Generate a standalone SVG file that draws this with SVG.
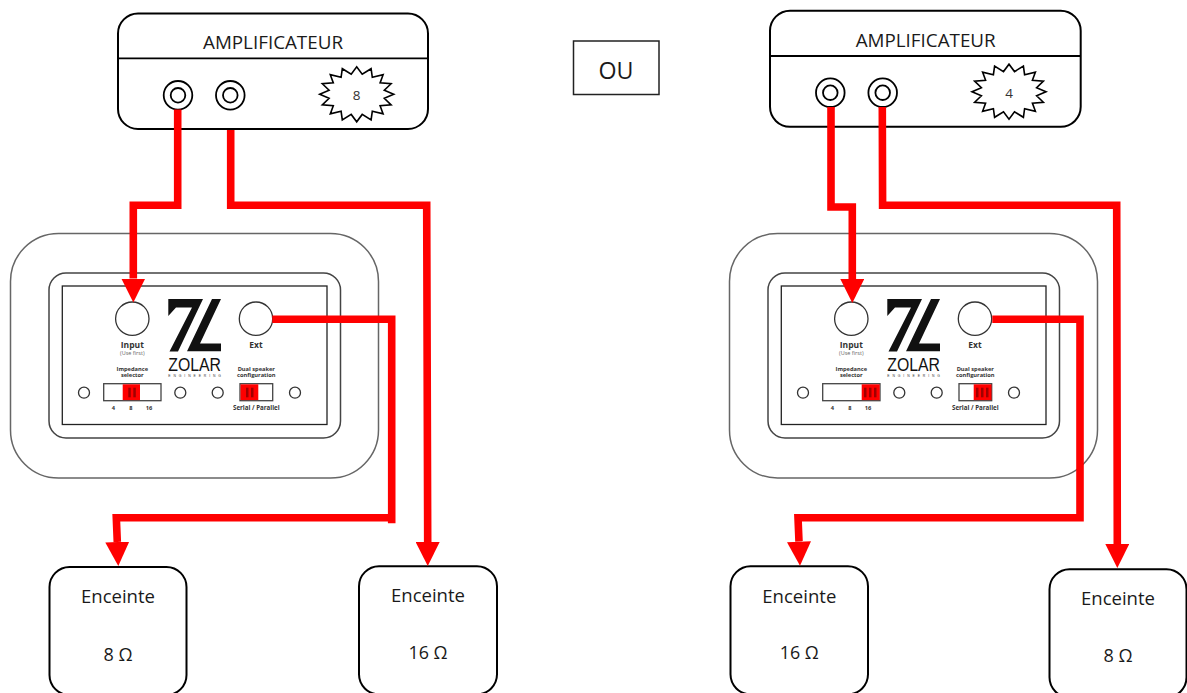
<svg xmlns="http://www.w3.org/2000/svg" width="1187" height="693" viewBox="0 0 1187 693">
<style>
.box{fill:#fff;stroke:#000;stroke-width:2}
.thin{fill:none;stroke:#000;stroke-width:1.8}
.lbl{font-family:"Open Sans","Liberation Sans",sans-serif;fill:#1a1a1a;text-anchor:middle}
.amp{font-size:18px}
.spk{font-size:18.5px}
.num{font-size:13.5px;fill:#333}
.ou{font-size:24px}
.outer{fill:#fff;stroke:#666;stroke-width:1.5}
.inner{fill:#fff;stroke:#444;stroke-width:1.5}
.plate{fill:#fff;stroke:#222;stroke-width:1.3}
.hole{fill:#fff;stroke:#333;stroke-width:1.3}
.sw{fill:#fff;stroke:#444;stroke-width:1.3}
.on{fill:#f00}
.bar{fill:#a00000}
.p{font-family:"Open Sans","Liberation Sans",sans-serif;fill:#333;text-anchor:middle;font-weight:700}
.p1{font-size:8.5px}
.p2{font-size:5.7px}
.p3{font-size:5.5px;font-weight:400;fill:#666}
.logo{fill:#111}
.zol{font-family:"Liberation Sans",sans-serif;font-size:19px;fill:#111}
.eng{font-family:"Liberation Sans",sans-serif;font-size:3.4px;fill:#333}
.wire{fill:none;stroke:#f00;stroke-width:7.6;stroke-linejoin:miter}
.arrow{marker-end:url(#head)}
</style>
<defs>
<marker id="head" markerUnits="userSpaceOnUse" markerWidth="24" markerHeight="24" viewBox="0 0 24 24" refX="0" refY="12" orient="auto"><path d="M0,0 L24,12 L0,24 Z" fill="#f00"/></marker>
<polygon id="star" fill="#fff" stroke="#000" stroke-width="1.6" points="37,0 27.6,4 34.4,10.6 23.4,11.4 26.4,19.6 15.6,17 14.4,25.6 5.5,20.1 0,27.5 -5.5,20.1 -14.4,25.6 -15.6,17 -26.4,19.6 -23.4,11.4 -34.4,10.6 -27.6,4 -37,0 -27.6,-4 -34.4,-10.6 -23.4,-11.4 -26.4,-19.6 -15.6,-17 -14.4,-25.6 -5.5,-20.1 0,-27.5 5.5,-20.1 14.4,-25.6 15.6,-17 26.4,-19.6 23.4,-11.4 34.4,-10.6 27.6,-4"/>
<g id="logo-mark" class="logo">
<polygon points="168.3,299 203,299 178,351.5 169.5,351.5 192,307.5 176,307.5 168.3,316"/>
<polygon points="212,299 221,299 200,343.5 221,343.5 221,351.3 187,351.3"/>
</g>
</defs>

<g id="amp-left">
<rect class="box" x="118" y="13.5" width="310" height="115.5" rx="20"/>
<line class="thin" x1="118" y1="58.3" x2="428" y2="58.3"/>
<text class="lbl amp" x="273" y="49.3" textLength="140" lengthAdjust="spacingAndGlyphs">AMPLIFICATEUR</text>
<circle class="thin" cx="178" cy="95.3" r="14.3"/><circle class="thin" cx="178" cy="95.3" r="7.3"/>
<circle class="thin" cx="230.3" cy="95.3" r="14.3"/><circle class="thin" cx="230.3" cy="95.3" r="7.3"/>
<use href="#star" x="356.7" y="94.3"/>
<text class="lbl num" x="356.7" y="100">8</text>
</g>

<g id="amp-right">
<rect class="box" x="770" y="10.8" width="310.7" height="116" rx="20"/>
<line class="thin" x1="770" y1="56" x2="1080.7" y2="56"/>
<text class="lbl amp" x="925.7" y="46.7" textLength="140" lengthAdjust="spacingAndGlyphs">AMPLIFICATEUR</text>
<circle class="thin" cx="830.3" cy="92.7" r="14.3"/><circle class="thin" cx="830.3" cy="92.7" r="7.3"/>
<circle class="thin" cx="882.7" cy="92.7" r="14.3"/><circle class="thin" cx="882.7" cy="92.7" r="7.3"/>
<use href="#star" x="1009" y="91.7"/>
<text class="lbl num" x="1009" y="97.5">4</text>
</g>

<g id="ou">
<rect x="573.5" y="41" width="85.5" height="53.5" fill="#fff" stroke="#222" stroke-width="1.5"/>
<text class="lbl ou" x="616" y="79" textLength="35" lengthAdjust="spacingAndGlyphs">OU</text>
</g>

<g id="panel-left">
<rect class="outer" x="10.5" y="233.5" width="368" height="244.5" rx="48"/>
<rect class="inner" x="49" y="273" width="291.5" height="165" rx="17"/>
<rect class="plate" x="62.3" y="286" width="264.7" height="138.5"/>
<circle class="hole" cx="132.3" cy="318.7" r="16.7"/>
<circle class="hole" cx="256" cy="318.7" r="16.7"/>
<use href="#logo-mark"/>
<text class="zol" x="168.3" y="371" textLength="52.7" lengthAdjust="spacingAndGlyphs">ZOLAR</text>
<text class="eng" x="168.3" y="377" textLength="52.7">ENGINEERING</text>
<text class="p p1" x="132.3" y="348">Input</text>
<text class="p p3" x="132.3" y="355">(Use first)</text>
<text class="p p1" x="256" y="348">Ext</text>
<text class="p p2" x="132.3" y="370.7">Impedance</text>
<text class="p p2" x="132.3" y="377.3">selector</text>
<text class="p p2" x="256.3" y="370.7">Dual speaker</text>
<text class="p p2" x="256.3" y="377.3">configuration</text>
<circle class="hole" cx="84" cy="392.7" r="5.5"/>
<circle class="hole" cx="180.3" cy="392.7" r="5.5"/>
<circle class="hole" cx="217.7" cy="392.7" r="5.5"/>
<circle class="hole" cx="295" cy="392.7" r="5.5"/>
<rect class="sw" x="103.7" y="383.7" width="57.3" height="17"/>
<rect class="on" x="122.7" y="384.3" width="17.3" height="15.8"/>
<rect class="bar" x="128.3" y="387.7" width="2.5" height="9.6"/><rect class="bar" x="133.3" y="387.7" width="2.5" height="9.6"/>
<rect class="sw" x="240" y="383.7" width="32.7" height="17"/>
<rect class="on" x="240.5" y="384.3" width="17.8" height="15.8"/>
<rect class="bar" x="246" y="387.7" width="2.5" height="9.6"/><rect class="bar" x="251" y="387.7" width="2.5" height="9.6"/>
<text class="p p2" x="113.3" y="410">4</text>
<text class="p p2" x="131" y="410">8</text>
<text class="p p2" x="149" y="410">16</text>
<text class="p p2" x="256.3" y="410" style="font-size:6.2px">Serial / Parallel</text>
</g>

<g id="panel-right">
<rect class="outer" x="729.5" y="233.5" width="368" height="244.5" rx="48"/>
<rect class="inner" x="768" y="273" width="291.5" height="165" rx="17"/>
<rect class="plate" x="781.3" y="286" width="264.7" height="138.5"/>
<circle class="hole" cx="851.3" cy="318.7" r="16.7"/>
<circle class="hole" cx="975" cy="318.7" r="16.7"/>
<use href="#logo-mark" x="719"/>
<text class="zol" x="887.3" y="371" textLength="52.7" lengthAdjust="spacingAndGlyphs">ZOLAR</text>
<text class="eng" x="887.3" y="377" textLength="52.7">ENGINEERING</text>
<text class="p p1" x="851.3" y="348">Input</text>
<text class="p p3" x="851.3" y="355">(Use first)</text>
<text class="p p1" x="975" y="348">Ext</text>
<text class="p p2" x="851.3" y="370.7">Impedance</text>
<text class="p p2" x="851.3" y="377.3">selector</text>
<text class="p p2" x="975.3" y="370.7">Dual speaker</text>
<text class="p p2" x="975.3" y="377.3">configuration</text>
<circle class="hole" cx="803" cy="392.7" r="5.5"/>
<circle class="hole" cx="899.3" cy="392.7" r="5.5"/>
<circle class="hole" cx="936.7" cy="392.7" r="5.5"/>
<circle class="hole" cx="1014" cy="392.7" r="5.5"/>
<rect class="sw" x="822.7" y="383.7" width="57.3" height="17"/>
<rect class="on" x="861.7" y="384.3" width="18" height="15.8"/>
<rect class="bar" x="864" y="387.7" width="2.5" height="9.6"/><rect class="bar" x="869" y="387.7" width="2.5" height="9.6"/><rect class="bar" x="874" y="387.7" width="2.5" height="9.6"/>
<rect class="sw" x="959" y="383.7" width="32.7" height="17"/>
<rect class="on" x="973.7" y="384.3" width="17.8" height="15.8"/>
<rect class="bar" x="976" y="387.7" width="2.5" height="9.6"/><rect class="bar" x="981" y="387.7" width="2.5" height="9.6"/><rect class="bar" x="986" y="387.7" width="2.5" height="9.6"/>
<text class="p p2" x="832.3" y="410">4</text>
<text class="p p2" x="850" y="410">8</text>
<text class="p p2" x="868" y="410">16</text>
<text class="p p2" x="975.3" y="410" style="font-size:6.2px">Serial / Parallel</text>
</g>

<g id="speaker-1">
<rect class="box" x="49.5" y="567" width="137" height="128" rx="20"/>
<text class="lbl spk" x="118" y="603" textLength="74" lengthAdjust="spacingAndGlyphs">Enceinte</text>
<text class="lbl spk" x="118" y="660.5" textLength="29" lengthAdjust="spacingAndGlyphs">8 Ω</text>
</g>
<g id="speaker-2">
<rect class="box" x="359" y="566.3" width="138" height="128" rx="20"/>
<text class="lbl spk" x="428" y="602" textLength="74" lengthAdjust="spacingAndGlyphs">Enceinte</text>
<text class="lbl spk" x="428" y="659.3" textLength="39" lengthAdjust="spacingAndGlyphs">16 Ω</text>
</g>
<g id="speaker-3">
<rect class="box" x="730.5" y="566.3" width="137.5" height="128" rx="20"/>
<text class="lbl spk" x="799.3" y="603" textLength="74" lengthAdjust="spacingAndGlyphs">Enceinte</text>
<text class="lbl spk" x="799.3" y="659.3" textLength="39" lengthAdjust="spacingAndGlyphs">16 Ω</text>
</g>
<g id="speaker-4">
<rect class="box" x="1049.5" y="569.3" width="137" height="128" rx="20"/>
<text class="lbl spk" x="1118" y="605" textLength="74" lengthAdjust="spacingAndGlyphs">Enceinte</text>
<text class="lbl spk" x="1118" y="662.3" textLength="29" lengthAdjust="spacingAndGlyphs">8 Ω</text>
</g>

<g id="connectors">
<path class="wire arrow" d="M177.7,109.5 V205.3 H133.3 V278.5"/>
<path class="wire arrow" d="M230.7,130 V205.3 H426.7 L427.7,542"/>
<path class="wire" d="M272.3,319.3 H391.7 V523.3"/>
<path class="wire arrow" d="M391.7,517.7 H116.3 L117.3,542"/>
<path class="wire arrow" d="M831,107 V207 H852.3 V279"/>
<path class="wire arrow" d="M882.3,107 L882.6,205.3 H1116.7 L1117.3,544"/>
<path class="wire arrow" d="M992.3,319.3 H1080 V517.7 H798 L799,541.7"/>
</g>
</svg>
